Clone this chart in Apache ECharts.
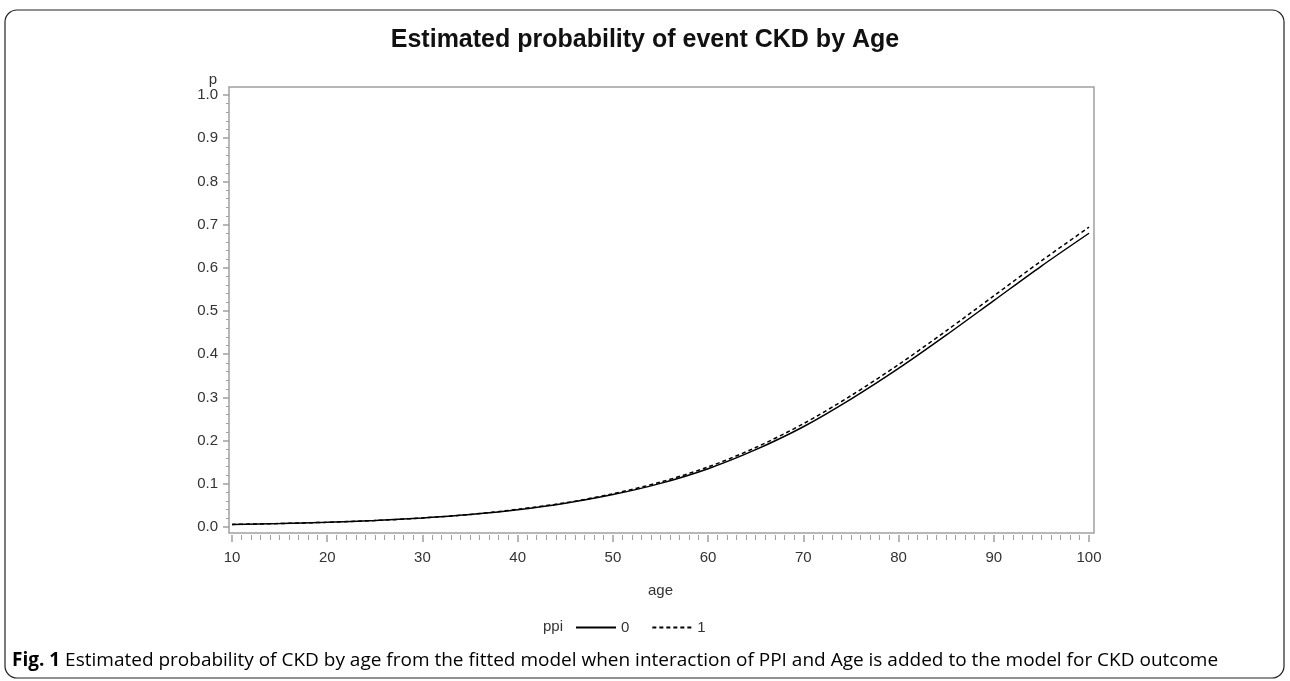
<!DOCTYPE html>
<html>
<head>
<meta charset="utf-8">
<script src="https://cdn.jsdelivr.net/npm/echarts@6/dist/echarts.min.js"></script>
<style>html,body{margin:0;padding:0;background:#fff;}#c{width:1290px;height:681px;}</style>
</head>
<body>
<div id="c"></div>
<script>
const ages = [10,15,20,25,30,35,40,45,50,55,60,65,70,75,80,85,90,95,100];
const ppi0 = [0.006,0.008,0.011,0.015,0.021,0.029,0.040,0.055,0.075,0.101,0.135,0.179,0.232,0.296,0.367,0.444,0.524,0.604,0.680];
const ppi1 = [0.006,0.008,0.011,0.015,0.021,0.029,0.041,0.056,0.077,0.104,0.139,0.184,0.239,0.304,0.376,0.454,0.535,0.616,0.694];
const xTicks = [10,20,30,40,50,60,70,80,90,100];
const yTicks = [0,0.1,0.2,0.3,0.4,0.5,0.6,0.7,0.8,0.9,1.0];
const titleText = 'Estimated probability of event CKD by Age';
const captionBold = 'Fig. 1';
const captionText = ' Estimated probability of CKD by age from the fitted model when interaction of PPI and Age is added to the model for CKD outcome';

const chart = echarts.init(document.getElementById('c'), null, {renderer:'canvas'});
const W = 1290, H = 681;
const axisCol = '#a0a0a0', labCol = '#333';
const font = 'Liberation Sans';
const hiddenX = (g) => ({gridIndex: g, type: 'value', min: 10, max: 100, interval: 10, show: false});
const hiddenY = (g) => ({gridIndex: g, type: 'value', min: 0, max: 1, interval: 0.1, show: false});
const option = {
  animation: false,
  backgroundColor: '#fff',
  title: {
    text: titleText, left: 'center', top: 23,
    textStyle: {fontFamily: font, fontWeight: 'bold', fontSize: 25, color: '#111'}
  },
  legend: {
    left: 570, top: 615, itemWidth: 40, itemHeight: 14, itemGap: 22,
    itemStyle: {opacity: 0},
    textStyle: {fontFamily: font, fontSize: 15, color: labCol},
    data: [{name:'0'},{name:'1'}]
  },
  grid: [
    {left: 232, right: W-1089, top: 95, bottom: H-527, show: false},
    {left: 232, right: W-1089, top: 95, bottom: H-535, show: false},
    {left: 229, right: W-1089, top: 95, bottom: H-527, show: false},
    {left: 229, right: W-1094, top: 87, bottom: H-533, show: true, borderColor: axisCol, borderWidth: 1.5, backgroundColor: 'transparent'}
  ],
  xAxis: [
    hiddenX(0),
    {gridIndex: 1, type: 'value', min: 10, max: 100, interval: 10,
     axisLine: {show: false},
     axisTick: {show: true, length: 7, lineStyle: {color: axisCol, width: 1.5}},
     minorTick: {show: true, splitNumber: 10, length: 5, lineStyle: {color: axisCol, width: 1}},
     axisLabel: {color: labCol, fontFamily: font, fontSize: 15, margin: 15},
     splitLine: {show: false},
     name: 'age', nameLocation: 'middle', nameGap: 48,
     nameTextStyle: {color: labCol, fontFamily: font, fontSize: 15}},
    hiddenX(2),
    hiddenX(3)
  ],
  yAxis: [
    hiddenY(0),
    hiddenY(1),
    {gridIndex: 2, type: 'value', min: 0, max: 1, interval: 0.1,
     axisLine: {show: false},
     axisTick: {show: true, length: 6, lineStyle: {color: axisCol, width: 1.5}},
     minorTick: {show: true, splitNumber: 5, length: 3, lineStyle: {color: axisCol, width: 1}},
     axisLabel: {color: labCol, fontFamily: font, fontSize: 15, margin: 11,
       formatter: v => v.toFixed(1)},
     splitLine: {show: false},
     name: 'p', nameLocation: 'end', nameGap: 6,
     nameTextStyle: {color: labCol, fontFamily: font, fontSize: 15, align: 'right', padding: [0, 12, -14, 0]}},
    hiddenY(3)
  ],
  series: [
    {name: '0', type: 'line', xAxisIndex: 0, yAxisIndex: 0, data: ages.map((a,i)=>[a, ppi0[i]]),
     smooth: 0.3, symbol: 'none', lineStyle: {color: '#000', width: 1.5, type: 'solid'}, itemStyle: {color: '#000'}},
    {name: '1', type: 'line', xAxisIndex: 0, yAxisIndex: 0, data: ages.map((a,i)=>[a, ppi1[i]]),
     smooth: 0.3, symbol: 'none', lineStyle: {color: '#000', width: 1.5, type: [4,3]}, itemStyle: {color: '#000'}}
  ],
  graphic: [
    {type: 'rect', shape: {x: 5, y: 10, width: 1279, height: 668, r: 12}, style: {fill: 'none', stroke: '#222', lineWidth: 1.2}, silent: true},
    {type: 'text', left: 543, top: 619, style: {text: 'ppi', fontFamily: font, fontSize: 15, fill: labCol}},
    {type: 'text', left: 12, top: 651, style: {
      text: '{b|' + captionBold + '}{r|' + captionText + '}',
      rich: {
        b: {fontFamily: 'Open Sans', fontWeight: 'bold', fontSize: 19, fill: '#000'},
        r: {fontFamily: 'Open Sans', fontSize: 19, fill: '#000'}
      }}}
  ]
};
chart.setOption(option);
</script>
</body>
</html>
